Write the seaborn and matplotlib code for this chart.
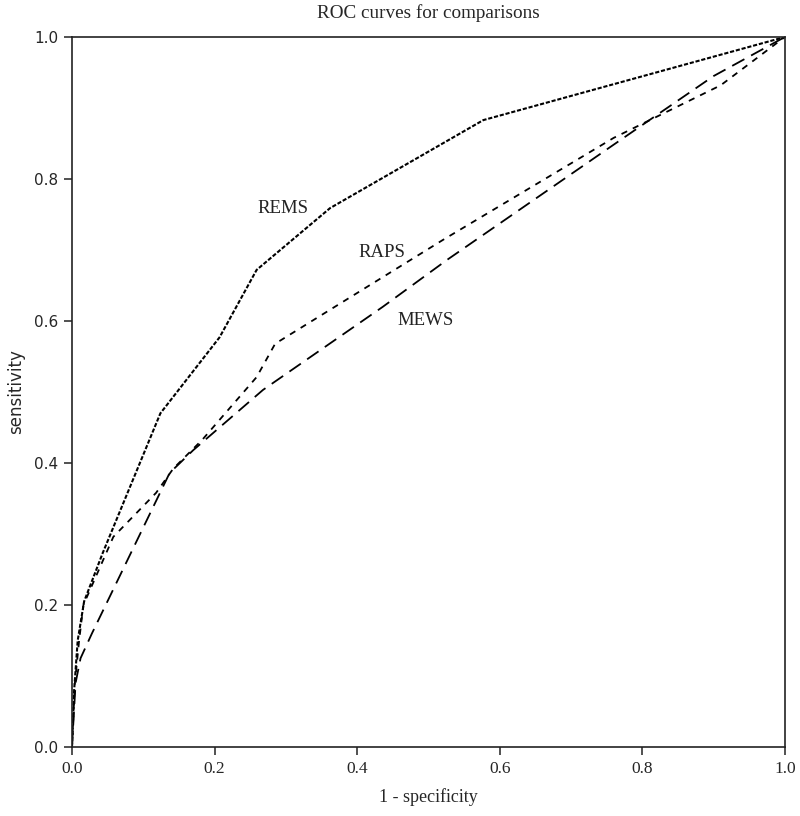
import numpy as np
import pandas as pd
import seaborn as sns
import matplotlib.pyplot as plt

# ROC points (1 - specificity, sensitivity)
rems_x = [0, 0.003, 0.008, 0.017, 0.043, 0.124, 0.207, 0.259, 0.362, 0.577, 1.0]
rems_y = [0, 0.08, 0.15, 0.205, 0.273, 0.470, 0.577, 0.672, 0.759, 0.883, 1.0]

raps_x = [0, 0.004, 0.010, 0.016, 0.058, 0.118, 0.142, 0.183, 0.259, 0.285, 0.520, 0.760, 0.910, 1.0]
raps_y = [0, 0.09, 0.15, 0.200, 0.296, 0.358, 0.392, 0.433, 0.521, 0.568, 0.714, 0.858, 0.932, 1.0]

mews_x = [0, 0.005, 0.012, 0.028, 0.137, 0.170, 0.268, 0.436, 0.526, 0.755, 0.900, 1.0]
mews_y = [0, 0.09, 0.125, 0.160, 0.386, 0.418, 0.503, 0.620, 0.686, 0.845, 0.945, 1.0]

tests = ["REMS", "RAPS", "MEWS"]
label_pos = {"REMS": (0.296, 0.759), "RAPS": (0.435, 0.697), "MEWS": (0.496, 0.601)}

frames = []
for name, xs, ys in zip(tests, [rems_x, raps_x, mews_x], [rems_y, raps_y, mews_y]):
    frames.append(pd.DataFrame({"fpr": xs, "tpr": ys, "test": name}))
df = pd.concat(frames, ignore_index=True)

sns.set_style("ticks")
plt.rcParams["font.family"] = ["Liberation Serif", "DejaVu Serif"]
plt.rcParams["lines.scale_dashes"] = False

fig = plt.figure(figsize=(8, 8.16), dpi=100)
ax = fig.add_axes([0.09, 0.0846, 0.891, 0.870])

sns.lineplot(data=df, x="fpr", y="tpr", style="test", size="test",
             sizes={"REMS": 1.5, "RAPS": 1.3, "MEWS": 1.3},
             dashes={"REMS": (3, 1.3), "RAPS": (4.5, 4.5), "MEWS": (10, 5.5)},
             color="black", sort=False, estimator=None, legend=False, ax=ax)

for name, (lx, ly) in label_pos.items():
    ax.text(lx, ly, name, ha="center", va="center", fontsize=13.5, color="#222222")

ax.set_xlim(0, 1)
ax.set_ylim(0, 1)
ax.set_xticks(np.arange(0, 1.01, 0.2))
ax.set_yticks(np.arange(0, 1.01, 0.2))
ax.set_xticklabels([f"{v:.1f}" for v in np.arange(0, 1.01, 0.2)], fontsize=12.5)
ax.set_yticklabels([f"{v:.1f}" for v in np.arange(0, 1.01, 0.2)], fontsize=11, family=["DejaVu Sans"])
ax.tick_params(direction="out", length=6, width=1.1, color="#222222", pad=4)

for s in ax.spines.values():
    s.set_visible(True)
    s.set_linewidth(1.2)
    s.set_color("#222222")

ax.set_title("ROC curves for comparisons", fontsize=13.8, pad=14)
ax.set_xlabel("1 - specificity", fontsize=13, labelpad=8)
ax.set_ylabel("sensitivity", fontsize=12, labelpad=6, family=["Liberation Sans Narrow", "DejaVu Sans"])

fig.savefig("out.png", dpi=100)
